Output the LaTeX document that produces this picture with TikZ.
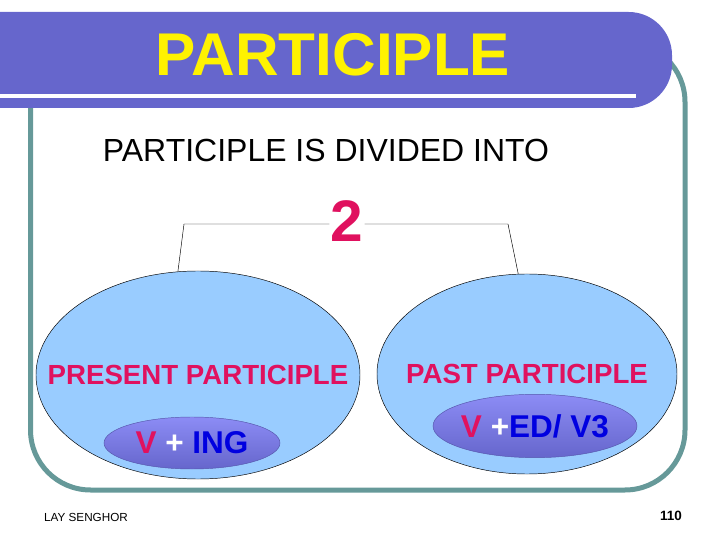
\documentclass[tikz,border=0pt]{standalone}
\usepackage{fontspec}
\setmainfont{Liberation Sans}
\usetikzlibrary{shapes.geometric}
\definecolor{bandblue}{HTML}{6666CC}
\definecolor{frameteal}{HTML}{669999}
\definecolor{skyfill}{HTML}{99CCFF}
\definecolor{rosered}{HTML}{E0115F}
\definecolor{inkblue}{HTML}{0000E0}
\definecolor{paleslate}{HTML}{8C8CF5}

\begin{document}
\begin{tikzpicture}[x=0.03cm,y=-0.03cm,
        bigoval/.style={ellipse,draw=black,thin,fill=skyfill,inner sep=0pt},
        ovaltext/.style={text=rosered,font=\fontsize{23.6}{24}\selectfont\bfseries},
        smalloval/.style={ellipse,draw=bandblue!85!black,thin,top color=paleslate,
            bottom color=bandblue,inner sep=0pt},
        formula/.style={font=\fontsize{26.9}{27}\selectfont\bfseries}]
    \useasboundingbox (0,0) rectangle (720,540);

    % frame and title band
    \draw[frameteal,line width=0.15cm,rounded corners=1.8cm] (30.5,42) rectangle (685,490);
    \fill[bandblue] (0,12) [rounded corners=1.3cm] -- (672,12) -- (672,108)
        [sharp corners] -- (0,108) -- cycle;
    \draw[white,line width=0.12cm] (0,96) -- (636,96);

    \node[text=yellow,font=\fontsize{51.5}{52}\selectfont\bfseries] (title) at (333,54.5) {PARTICIPLE};
    \node[font=\fontsize{27.3}{28}\selectfont] (intro) at (326,150) {PARTICIPLE IS DIVIDED INTO};
    \node[text=rosered,inner sep=1pt,font=\fontsize{50}{50}\selectfont\bfseries] (two) at (347,221) {2};

    \node[bigoval,minimum width=9.72cm,minimum height=6.24cm,
        label={[ovaltext]center:PRESENT PARTICIPLE}] (present) at (198,375) {};
    \node[bigoval,minimum width=9cm,minimum height=6cm,
        label={[ovaltext]center:PAST PARTICIPLE}] (past) at (527,374) {};

    \node[smalloval,minimum width=5.28cm,minimum height=1.56cm,
        label={[formula]center:\textcolor{rosered}{V} \textcolor{white}{+} \textcolor{inkblue}{ING}}]
        (ing) at (192,443) {};
    \node[smalloval,minimum width=6.12cm,minimum height=1.9cm,
        label={[formula]center:\textcolor{rosered}{V} \textcolor{white}{+}\textcolor{inkblue}{ED/ V3}}]
        (ed) at (535,426) {};

    % bracket
    \coordinate (lcorner) at (184,224);
    \coordinate (rcorner) at (508,224);
    \draw[thin] (two.west |- lcorner) -- (lcorner) -- (present.101);
    \draw[thin] (two.east |- rcorner) -- (rcorner) -- (past.95);

    \node[font=\fontsize{10}{10}\selectfont] (author) at (86,517) {LAY SENGHOR};
    \node[font=\fontsize{11.5}{12}\selectfont\bfseries] (page) at (671,516) {110};
\end{tikzpicture}
\end{document}
